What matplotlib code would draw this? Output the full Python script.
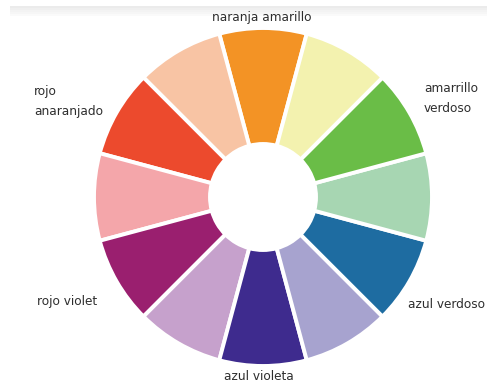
import matplotlib
matplotlib.use("Agg")
import matplotlib.pyplot as plt
from matplotlib.patches import Rectangle

# Data: 12 equal segments of the colour wheel, counter-clockwise from the top
segments = ["naranja amarillo", "naranja claro", "rojo anaranjado", "rojo claro",
            "rojo violeta", "violeta claro", "azul violeta", "azul claro",
            "azul verdoso", "verde claro", "amarrillo verdoso", "amarillo claro"]
values = [1] * 12
colors = ["#F39325", "#F8C4A4", "#EC4A2D", "#F4A6AA",
          "#9A1F6F", "#C6A1CC", "#3E2B8E", "#A7A3CF",
          "#1E6CA1", "#A7D6B2", "#6ABD47", "#F3F2AF"]

labels = ["naranja amarillo", "rojo\nanaranjado", "amarrillo\nverdoso",
          "rojo violet", "azul verdoso", "azul violeta"]

W, H = 487, 385
fig = plt.figure(figsize=(W / 100, H / 100), dpi=100)
ax = fig.add_axes([0, 0, 1, 1])

cx, cy = 263, H - 197
r_out, r_in = 169, 53

ax.pie(values, colors=colors, startangle=75, counterclock=True,
       center=(cx, cy), radius=r_out,
       wedgeprops=dict(width=r_out - r_in, edgecolor="white", linewidth=2.8))

# faint grey band at the top
for i, c in enumerate(["#ebebeb", "#efefef", "#f3f3f3", "#f6f6f6", "#fafafa"]):
    ax.add_patch(Rectangle((10, H - 8 - 2 * i), W - 10, 2, color=c, lw=0, zorder=0))

txt = dict(fontsize=8.7, color="#2e2e2e", family="DejaVu Sans")
ax.text(262, H - 18, labels[0], ha="center", va="center", **txt)
ax.text(34, H - 102, labels[1], ha="left", va="center", linespacing=1.7, **txt)
ax.text(424, H - 98, labels[2], ha="left", va="center", linespacing=1.7, **txt)
ax.text(37, H - 302, labels[3], ha="left", va="center", **txt)
ax.text(408, H - 305, labels[4], ha="left", va="center", **txt)
ax.text(259, H - 377, labels[5], ha="center", va="center", **txt)

ax.set_xlim(0, W)
ax.set_ylim(0, H)
ax.set_aspect("equal")
ax.axis("off")
fig.savefig("out.png", dpi=100, facecolor="white")
